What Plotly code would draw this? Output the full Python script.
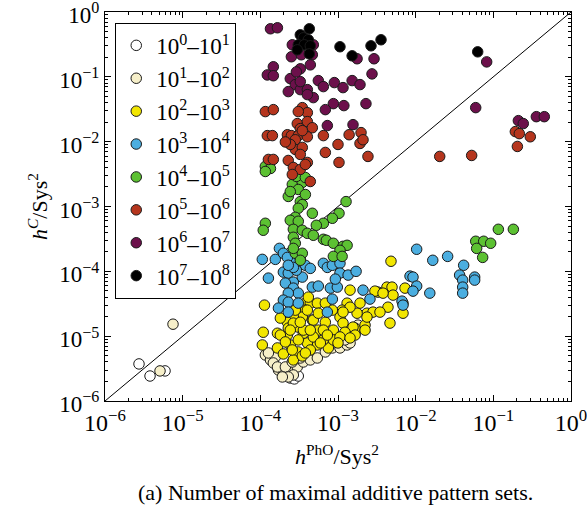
import plotly.graph_objects as go

# ---- data: (hPhO/Sys^2, hC/Sys^2) pairs per class ----
names = ["10<sup>0</sup>–10<sup>1</sup>", "10<sup>1</sup>–10<sup>2</sup>", "10<sup>2</sup>–10<sup>3</sup>",
         "10<sup>3</sup>–10<sup>4</sup>", "10<sup>4</sup>–10<sup>5</sup>", "10<sup>5</sup>–10<sup>6</sup>",
         "10<sup>6</sup>–10<sup>7</sup>", "10<sup>7</sup>–10<sup>8</sup>"]
colors = ["#ffffff", "#f6efc9", "#f2e600", "#4baee0", "#5cc132", "#b5351d", "#6c104b", "#000000"]

white_pts = [(2.74e-6, 3.73e-6), (3.80e-6, 2.43e-6), (5.93e-6, 2.91e-6), (2.10e-4, 2.52e-6),
             (2.43e-4, 2.26e-6), (2.74e-4, 2.19e-6), (1.92e-4, 2.80e-6), (3.08e-4, 2.43e-6),
             (2.29e-4, 3.12e-6)]

cream_pts = [(7.51e-6, 1.53e-5), (5.11e-6, 2.91e-6), (1.16e-4, 5.13e-6), (1.35e-4, 4.30e-6),
             (1.56e-4, 4.78e-6), (1.71e-4, 3.01e-6), (1.98e-4, 2.71e-6), (2.43e-4, 3.01e-6),
             (2.99e-4, 3.35e-6), (3.58e-4, 4.00e-6), (4.40e-4, 4.30e-6), (5.42e-4, 4.61e-6),
             (1.47e-4, 3.86e-6), (1.66e-4, 3.35e-6), (2.10e-4, 3.35e-6), (2.66e-4, 2.52e-6),
             (2.29e-4, 2.35e-6), (1.92e-4, 2.35e-6), (1.27e-4, 5.51e-6), (6.87e-4, 5.71e-6),
             (8.46e-4, 6.58e-6), (1.06e-3, 6.58e-6), (1.31e-3, 7.32e-6), (1.43e-3, 7.86e-6),
             (1.23e-3, 8.75e-6), (1.66e-3, 1.11e-5), (1.81e-3, 1.48e-5), (3.27e-4, 4.61e-6),
             (2.58e-4, 4.00e-6)]

yellow_pts = [(1.13e-4, 3.01e-5), (1.09e-4, 1.15e-5), (1.06e-4, 7.32e-6), (1.66e-4, 6.58e-6),
              (1.98e-4, 5.32e-6), (2.43e-4, 7.32e-6), (3.08e-4, 5.71e-6), (2.66e-4, 4.30e-6),
              (3.47e-4, 4.95e-6), (3.80e-4, 3.23e-5), (4.40e-4, 3.23e-5), (3.80e-4, 2.52e-5),
              (3.47e-4, 1.97e-5), (2.66e-4, 1.97e-5), (3.08e-4, 1.38e-5), (4.67e-4, 1.77e-5),
              (5.58e-4, 1.24e-5), (6.87e-4, 1.64e-5), (7.51e-4, 6.58e-6), (1.00e-3, 9.39e-6),
              (1.31e-3, 1.24e-5), (1.66e-3, 1.33e-5), (1.31e-3, 3.23e-5), (1.13e-3, 2.52e-5),
              (1.43e-3, 5.13e-5), (1.92e-3, 3.23e-5), (2.36e-3, 2.26e-5), (2.23e-3, 1.48e-5),
              (2.82e-3, 2.35e-5), (3.27e-3, 4.78e-5), (4.27e-3, 5.71e-5), (4.96e-3, 5.71e-5),
              (5.11e-3, 4.30e-5), (4.40e-3, 2.80e-5), (3.47e-3, 2.35e-5), (4.67e-3, 1.59e-5),
              (6.87e-3, 2.26e-5), (7.29e-3, 5.51e-5), (6.87e-3, 3.23e-5), (4.81e-3, 1.43e-4),
              (5.42e-4, 7.32e-6), (4.03e-4, 7.86e-6), (2.23e-4, 1.04e-5), (1.66e-4, 1.11e-5),
              (2.23e-4, 1.64e-5), (6.48e-4, 8.75e-6), (2.99e-3, 4.95e-5), (3.80e-3, 4.61e-5),
              (2.36e-3, 1.97e-5), (1.76e-3, 2.26e-5), (1.43e-3, 2.80e-5), (1.06e-3, 1.97e-5),
              (8.46e-4, 2.52e-5), (1.16e-3, 1.59e-5), (1.56e-3, 1.38e-5), (2.23e-3, 1.24e-5),
              (1.66e-3, 1.04e-5), (1.23e-3, 1.15e-5), (8.71e-4, 1.24e-5), (6.48e-4, 1.24e-5),
              (4.81e-4, 1.77e-5), (4.03e-4, 2.52e-5), (5.42e-4, 3.23e-5), (4.15e-4, 4.00e-5),
              (6.87e-4, 3.23e-5), (8.71e-4, 8.75e-6), (1.06e-3, 9.73e-6), (4.81e-4, 9.73e-6),
              (1.43e-3, 9.39e-6), (7.29e-4, 1.04e-5), (1.00e-3, 7.86e-6), (5.93e-4, 7.86e-6),
              (4.40e-4, 6.13e-6), (3.80e-4, 5.51e-6), (3.58e-4, 1.11e-5), (1.81e-4, 1.04e-5),
              (2.29e-4, 1.33e-5), (2.66e-4, 1.59e-5), (3.58e-4, 1.24e-5), (1.16e-3, 2.35e-5),
              (3.08e-4, 8.75e-6), (2.58e-4, 6.13e-6), (2.10e-4, 8.15e-6), (3.27e-4, 1.64e-5),
              (4.40e-4, 1.24e-5), (5.58e-4, 2.26e-5), (2.82e-4, 2.52e-5), (2.43e-4, 1.24e-5),
              (1.81e-4, 1.90e-5)]

blue_pts = [(1.06e-4, 1.53e-4), (1.56e-4, 1.53e-4), (1.76e-4, 2.26e-4), (1.98e-4, 1.90e-4),
            (2.58e-4, 1.48e-4), (3.27e-4, 1.59e-4), (3.80e-4, 1.24e-4), (2.23e-4, 1.64e-4),
            (1.27e-4, 7.86e-5), (1.98e-4, 9.73e-5), (2.29e-4, 9.39e-5), (2.66e-4, 6.82e-5),
            (3.47e-4, 8.15e-5), (2.10e-4, 6.58e-5), (2.66e-4, 5.51e-5), (3.08e-4, 4.61e-5),
            (2.29e-4, 4.61e-5), (1.98e-4, 3.60e-5), (2.29e-4, 3.35e-5), (3.08e-4, 3.23e-5),
            (1.71e-4, 2.71e-5), (2.29e-4, 2.35e-5), (4.67e-4, 5.71e-5), (5.58e-4, 5.92e-5),
            (6.48e-4, 1.33e-4), (7.29e-4, 1.15e-4), (8.46e-4, 1.24e-4), (1.06e-3, 1.33e-4),
            (1.06e-3, 9.39e-5), (1.35e-3, 8.75e-5), (1.71e-3, 1.00e-4), (7.97e-4, 5.51e-5),
            (9.80e-4, 5.71e-5), (8.46e-4, 3.73e-5), (7.29e-4, 2.35e-5), (2.10e-3, 5.13e-5),
            (2.58e-3, 3.73e-5), (6.67e-3, 3.47e-5), (6.87e-3, 3.01e-5), (8.46e-3, 8.44e-5),
            (9.24e-3, 8.15e-5), (1.03e-2, 5.92e-5), (9.24e-3, 4.95e-5), (1.52e-2, 4.61e-5),
            (1.03e-2, 2.19e-4), (1.66e-2, 1.48e-4), (2.58e-2, 1.70e-4), (4.15e-2, 1.24e-4),
            (3.68e-2, 8.75e-5), (4.03e-2, 7.32e-5), (4.03e-2, 5.71e-5), (4.03e-2, 4.61e-5),
            (5.75e-2, 8.15e-5), (5.75e-2, 7.32e-5), (9.24e-4, 7.59e-5), (2.91e-4, 1.04e-4),
            (4.40e-4, 1.11e-4), (2.66e-4, 1.15e-4), (2.29e-4, 1.24e-4)]

green_pts = [(1.16e-4, 4.15e-3), (1.35e-4, 3.86e-3), (1.16e-4, 3.47e-3), (2.58e-4, 2.19e-3),
             (3.47e-4, 2.35e-3), (3.08e-4, 1.83e-3), (2.29e-4, 1.43e-3), (3.27e-4, 1.19e-3),
             (3.47e-4, 1.07e-3), (3.08e-4, 9.39e-4), (4.67e-4, 7.86e-4), (2.82e-4, 6.82e-4),
             (1.27e-3, 1.19e-3), (1.03e-3, 7.86e-4), (8.46e-4, 6.58e-4), (6.48e-4, 5.51e-4),
             (5.26e-4, 5.13e-4), (1.16e-4, 5.51e-4), (1.09e-4, 4.30e-4), (2.43e-4, 6.13e-4),
             (3.08e-4, 5.92e-4), (2.66e-4, 4.45e-4), (3.47e-4, 4.30e-4), (4.03e-4, 3.86e-4),
             (4.81e-4, 3.60e-4), (2.66e-4, 3.35e-4), (2.82e-4, 2.71e-4), (6.48e-4, 3.12e-4),
             (7.08e-4, 3.01e-4), (8.71e-4, 2.71e-4), (1.16e-3, 2.43e-4), (1.31e-3, 2.52e-4),
             (1.06e-3, 2.11e-4), (8.71e-4, 1.70e-4), (1.13e-3, 1.70e-4), (2.82e-4, 1.90e-4),
             (3.47e-4, 1.90e-4), (2.66e-4, 2.26e-4), (2.43e-4, 1.70e-3), (3.80e-4, 1.53e-3),
             (1.16e-1, 4.45e-4), (1.81e-1, 4.45e-4), (5.93e-2, 2.91e-4), (7.51e-2, 2.91e-4),
             (9.24e-2, 2.71e-4), (6.10e-2, 2.26e-4), (7.29e-2, 1.64e-4), (2.91e-4, 2.91e-3),
             (3.80e-4, 2.80e-3), (3.27e-4, 1.48e-4)]

red_pts = [(1.16e-4, 2.91e-2), (1.47e-4, 3.12e-2), (3.47e-4, 3.35e-2), (4.03e-4, 2.80e-2),
           (3.08e-4, 2.91e-2), (2.99e-4, 1.90e-2), (3.27e-4, 1.59e-2), (4.03e-4, 2.04e-2),
           (4.67e-4, 1.64e-2), (1.23e-4, 1.24e-2), (1.43e-4, 1.24e-2), (2.23e-4, 1.28e-2),
           (2.51e-4, 1.24e-2), (3.08e-4, 1.24e-2), (4.03e-4, 1.19e-2), (3.47e-4, 1.48e-2),
           (2.82e-4, 1.07e-2), (6.48e-4, 1.24e-2), (1.00e-3, 9.06e-3), (1.39e-3, 1.28e-2),
           (1.98e-3, 1.38e-2), (1.92e-3, 9.39e-3), (2.10e-3, 1.07e-2), (6.87e-4, 6.82e-3),
           (1.03e-3, 4.78e-3), (2.43e-3, 5.92e-3), (2.82e-4, 7.59e-3), (3.47e-4, 8.15e-3),
           (3.27e-4, 6.35e-3), (4.03e-4, 4.78e-3), (1.27e-4, 5.32e-3), (1.47e-4, 5.32e-3),
           (2.29e-4, 5.13e-3), (2.66e-4, 4.00e-3), (3.27e-4, 3.73e-3), (2.58e-4, 3.12e-3),
           (4.40e-4, 2.43e-3), (2.04e-2, 5.92e-3), (5.26e-2, 6.13e-3), (2.04e-1, 8.44e-3),
           (1.92e-1, 1.43e-2), (2.16e-1, 1.33e-2), (2.99e-1, 1.19e-2), (3.80e-4, 4.45e-3),
           (2.43e-4, 9.06e-3), (2.10e-4, 9.90e-3)]

purple_pts = [(1.35e-4, 5.51e-1), (1.66e-4, 5.71e-1), (2.58e-4, 3.12e-1), (4.81e-4, 3.12e-1),
              (2.51e-4, 2.04e-1), (3.37e-4, 2.19e-1), (4.67e-4, 2.19e-1), (1.47e-4, 1.43e-1),
              (1.23e-4, 1.07e-1), (1.47e-4, 1.04e-1), (3.27e-4, 1.33e-1), (4.40e-4, 1.53e-1),
              (2.43e-4, 9.39e-2), (2.82e-4, 7.59e-2), (2.29e-4, 5.92e-2), (3.27e-4, 6.35e-2),
              (4.03e-4, 6.35e-2), (5.58e-4, 8.75e-2), (6.48e-4, 7.07e-2), (4.81e-4, 4.78e-2),
              (4.03e-4, 5.32e-2), (8.97e-4, 8.15e-2), (1.16e-3, 6.82e-2), (1.52e-3, 8.75e-2),
              (1.92e-3, 7.59e-2), (2.74e-3, 1.11e-1), (1.76e-3, 1.90e-1), (2.91e-3, 1.90e-1),
              (8.71e-4, 3.86e-2), (1.19e-3, 3.60e-2), (2.29e-3, 3.86e-2), (6.87e-4, 3.12e-2),
              (7.29e-4, 1.77e-2), (1.56e-3, 1.83e-2), (8.21e-2, 1.70e-1), (5.93e-2, 3.35e-2),
              (2.10e-1, 2.11e-2), (2.43e-1, 1.90e-2), (3.58e-1, 2.43e-2), (4.53e-1, 2.43e-2),
              (3.27e-4, 8.44e-2), (2.91e-4, 1.19e-1)]

black_pts = [(4.27e-4, 5.51e-1), (3.27e-4, 4.45e-1), (3.58e-4, 4.00e-1), (4.15e-4, 3.73e-1),
             (3.08e-4, 3.12e-1), (3.68e-4, 3.12e-1), (4.40e-4, 3.01e-1), (4.27e-4, 2.26e-1),
             (2.99e-4, 2.61e-1), (1.06e-3, 2.91e-1), (1.52e-3, 2.11e-1), (2.66e-3, 3.01e-1),
             (3.58e-3, 3.73e-1), (6.29e-2, 2.43e-1)]

series = [white_pts, cream_pts, yellow_pts, blue_pts, green_pts, red_pts, purple_pts, black_pts]

diag = [1e-6, 1.0]  # y = x reference line

major_vals = [1e-6, 1e-5, 1e-4, 1e-3, 1e-2, 1e-1, 1.0]
major_text = ["10<sup>−6</sup>", "10<sup>−5</sup>", "10<sup>−4</sup>", "10<sup>−3</sup>",
              "10<sup>−2</sup>", "10<sup>−1</sup>", "10<sup>0</sup>"]
minor_vals = [m * 10.0 ** k for k in range(-6, 0) for m in range(2, 10)]

FONT = "Liberation Serif, DejaVu Serif, serif"

fig = go.Figure()
fig.add_trace(go.Scatter(x=diag, y=diag, mode="lines", line=dict(color="black", width=1),
                         showlegend=False, hoverinfo="skip"))
for name, col, pts in zip(names, colors, series):
    fig.add_trace(go.Scatter(
        x=[p[0] for p in pts], y=[p[1] for p in pts], mode="markers", name=name,
        marker=dict(size=10.5, color=col, line=dict(color="#1a1a1a", width=1))))

axis_common = dict(
    type="log", range=[-6, 0], tickmode="array", tickvals=major_vals, ticktext=major_text,
    ticks="inside", ticklen=6, tickwidth=1, tickcolor="black",
    showline=True, linecolor="black", linewidth=1, mirror="allticks",
    showgrid=False, zeroline=False, automargin=False, ticklabeloverflow="allow",
    minor=dict(tickmode="array", tickvals=minor_vals, ticks="inside", ticklen=3,
               tickwidth=1, tickcolor="black", showgrid=False),
)
fig.update_xaxes(**axis_common, tickfont=dict(family=FONT, size=24, color="black"))
fig.update_yaxes(**axis_common, tickfont=dict(family=FONT, size=23, color="black"),
                 ticklabelshift=3)

fig.update_layout(
    width=587, height=508,
    margin=dict(l=105, r=16, t=12, b=107),
    plot_bgcolor="white", paper_bgcolor="white",
    font=dict(family=FONT, size=22, color="black"),
    legend=dict(x=0.022, y=0.972, xanchor="left", yanchor="top",
                bordercolor="black", borderwidth=1, bgcolor="white",
                font=dict(family=FONT, size=23), itemwidth=30, tracegroupgap=0),
    annotations=[
        dict(text="<i>h</i><sup>PhO</sup>/Sys<sup>2</sup>", xref="paper", yref="paper",
             x=0.497, y=-0.14, xanchor="center", yanchor="middle", showarrow=False,
             font=dict(family=FONT, size=22)),
        dict(text="<i>h</i><sup><i>C</i></sup>/Sys<sup>2</sup>", xref="paper", yref="paper",
             x=-0.145, y=0.5, xanchor="center", yanchor="middle", textangle=-90, showarrow=False,
             font=dict(family=FONT, size=22)),
        dict(text="(a) Number of maximal additive pattern sets.", xref="paper", yref="paper",
             x=0.494, y=-0.234, xanchor="center", yanchor="middle", showarrow=False,
             font=dict(family=FONT, size=22)),
    ],
)

fig.write_html("out.html")
